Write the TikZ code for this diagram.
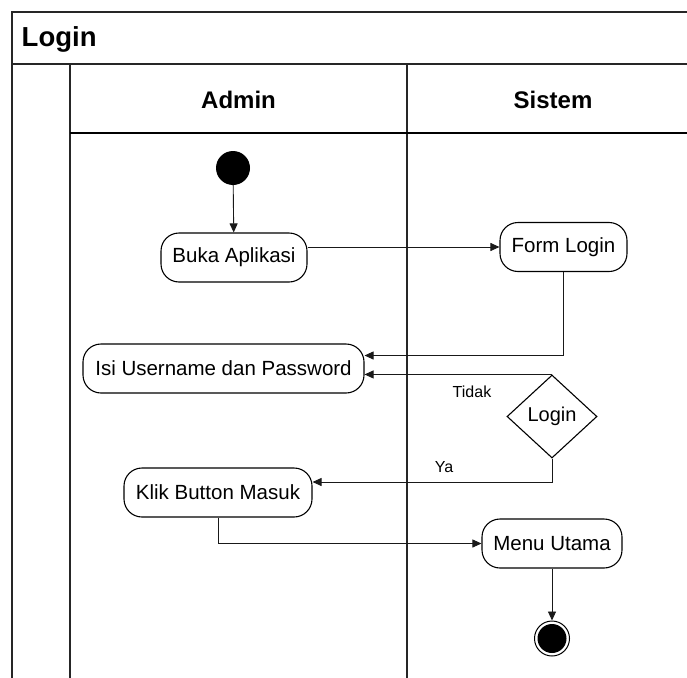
\documentclass[tikz,border=0pt]{standalone}
\usepackage{fontspec}
\setmainfont{Liberation Sans}
\usetikzlibrary{arrows.meta,shapes.geometric}
\tikzset{
  frameline/.style={line width=1.8pt, draw=black!85},
  laneline/.style={line width=1.3pt, draw=black},
  actbox/.style={draw, line width=1.1pt, rounded corners=18pt, minimum height=49pt, inner sep=0pt, font=\fontsize{20.5}{24}\selectfont},
  decbox/.style={draw, diamond, line width=1.1pt, inner sep=0pt, minimum width=90pt, minimum height=83pt, font=\fontsize{20}{24}\selectfont},
  arr/.style={draw=black!90, line width=0.9pt, -{Triangle[length=9pt,width=8pt]}},
  lbl/.style={font=\fontsize{16}{18}\selectfont, inner sep=0pt},
  hdr/.style={font=\fontsize{24}{26}\selectfont\bfseries, inner sep=0pt, anchor=base},
}
\begin{document}
\begin{tikzpicture}[x=1pt,y=-1pt]
\useasboundingbox (0,0) rectangle (687,677);
\clip (0,0) rectangle (687,677);
\fill[white] (0,0) rectangle (687,677);
% frame
\draw[frameline] (700,12) -- (12,12) -- (12,690);
\draw[frameline] (12,64) -- (700,64);
\draw[frameline] (70,64) -- (70,690);
\draw[frameline] (407,64) -- (407,690);
\draw[laneline] (70,133) -- (700,133);
\node[font=\fontsize{27.5}{30}\selectfont\bfseries, inner sep=0pt, anchor=base west] (title) at (21.5,46.5) {Login};
\node[hdr] (hadmin) at (238.5,108.3) {Admin};
\node[hdr] (hsistem) at (553,108.3) {Sistem};
% nodes
\node[circle, fill=black, minimum size=34pt, inner sep=0pt] (start) at (233,168) {};
\node[actbox, minimum width=146pt] (buka) at (234,257.5) {Buka Aplikasi};
\node[actbox, minimum width=127pt] (form) at (563.5,247) {Form Login};
\node[actbox, minimum width=281pt] (isi) at (223.5,368.5) {Isi Username dan Password};
\node[decbox] (login) at (552,416.5) {Login};
\node[actbox, minimum width=188pt] (klik) at (218,492.5) {Klik Button Masuk};
\node[actbox, minimum width=140pt] (menu) at (552,543.5) {Menu Utama};
\node[circle, draw, line width=1pt, minimum size=35pt, inner sep=0pt] (end) at (552,638.5) {};
\node[circle, fill=black, minimum size=29pt, inner sep=0pt] (endin) at (end) {};
% labels
\node[lbl] (tidak) at (472,392) {Tidak};
\node[lbl] (ya) at (444,467) {Ya};
% connectors
\draw[arr] (start) -- (buka);
\draw[arr] (buka.east |- form.west) -- (form.west);
\draw[arr] (form.south) |- ([yshift=13pt]isi.east);
\draw[arr] (login.north) -- (login.north -| isi.east);
\draw[arr] (login.south) |- ([yshift=10.5pt]klik.east);
\draw[arr] (klik.south) |- (menu.west);
\draw[arr] (menu) -- (end);
\end{tikzpicture}
\end{document}
